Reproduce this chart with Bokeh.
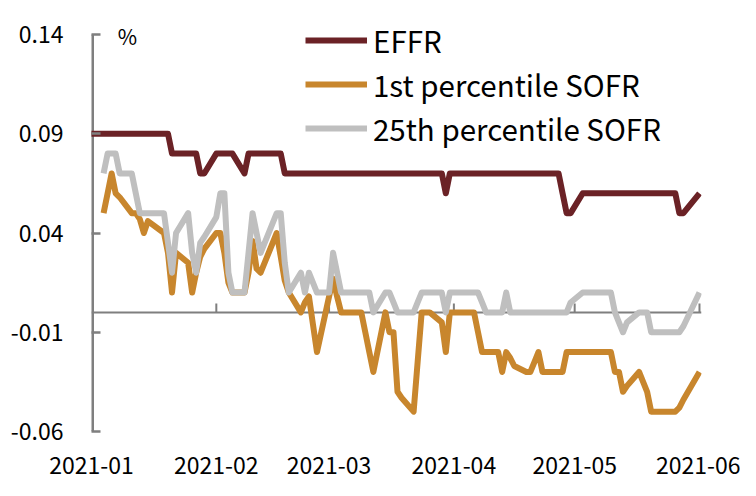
import pandas as pd
from bokeh.plotting import figure
from bokeh.models import (Span, Legend, LegendItem, FixedTicker, DatetimeTickFormatter,
                          PrintfTickFormatter, Label, Range1d, ColumnDataSource)
from bokeh.embed import file_html
from bokeh.resources import INLINE

# ---------------- data ----------------
holidays = ["2021-01-18", "2021-02-15", "2021-05-31"]
dates = [d for d in pd.bdate_range("2021-01-04", "2021-06-01")
         if d.strftime("%Y-%m-%d") not in holidays]
effr_dates = [pd.Timestamp("2020-12-31")] + dates

effr = ([0.09]
        + [0.09] * 12 + [0.08] * 5 + [0.07] * 2                       # Jan
        + [0.08] * 5 + [0.07] + [0.08] * 6 + [0.07] * 7               # Feb
        + [0.07] * 21 + [0.06, 0.07]                                  # Mar
        + [0.07] * 19 + [0.06, 0.05, 0.05]                            # Apr
        + [0.06] * 18 + [0.05, 0.05]                                  # May
        + [0.06])                                                     # Jun

sofr_p1 = ([0.05, 0.06, 0.07, 0.06, 0.058, 0.05, 0.05, 0.047, 0.04, 0.046, 0.04, 0.03,
            0.01, 0.03, 0.025, 0.01, 0.02, 0.028, 0.032]
           + [0.04, 0.04, 0.03, 0.015, 0.01, 0.01, 0.02, 0.036, 0.022, 0.02, 0.04, 0.028,
              0.016, 0.01, 0.0, 0.005, 0.008, -0.006, -0.02]
           + [0.008, 0.017, 0.008, 0.0, 0.0, 0.0, 0.0, -0.01, -0.02, -0.03, 0.0, -0.01,
              -0.01, -0.04, -0.043, -0.05, -0.025, 0.0, 0.0, 0.0, -0.005, -0.02, 0.0]
           + [0.0, 0.0, 0.0, 0.0, -0.01, -0.02, -0.02, -0.02, -0.03, -0.02, -0.023, -0.027,
              -0.03, -0.03, -0.025, -0.02, -0.03, -0.03, -0.03, -0.03, -0.02, -0.02]
           + [-0.02, -0.02, -0.02, -0.02, -0.02, -0.02, -0.03, -0.03, -0.04, -0.037, -0.03,
              -0.035, -0.04, -0.05, -0.05, -0.05, -0.05, -0.05, -0.048, -0.044]
           + [-0.03])

sofr_p25 = ([0.07, 0.08, 0.08, 0.08, 0.07, 0.07, 0.06, 0.05, 0.05, 0.05, 0.05, 0.035,
             0.02, 0.04, 0.05, 0.03, 0.02, 0.035, 0.038]
            + [0.048, 0.06, 0.06, 0.02, 0.01, 0.01, 0.03, 0.05, 0.04, 0.03, 0.05, 0.05,
               0.025, 0.01, 0.02, 0.01, 0.02, 0.015, 0.01]
            + [0.01, 0.03, 0.02, 0.01, 0.01, 0.01, 0.01, 0.01, 0.01, 0.0, 0.01, 0.01,
               0.005, 0.0, 0.0, 0.0, 0.005, 0.01, 0.01, 0.01, 0.01, 0.0, 0.01]
            + [0.01, 0.01, 0.01, 0.01, 0.01, 0.005, 0.0, 0.0, 0.0, 0.01, 0.0, 0.0,
               0.0, 0.0, 0.0, 0.0, 0.0, 0.0, 0.0, 0.0, 0.0, 0.005]
            + [0.01, 0.01, 0.01, 0.01, 0.01, 0.01, 0.0, -0.005, -0.01, -0.005, 0.0, 0.0,
               0.0, -0.01, -0.01, -0.01, -0.01, -0.01, -0.01, -0.007]
            + [0.01])

month_ticks = ["2021-01-01", "2021-02-01", "2021-03-01", "2021-04-01", "2021-05-01", "2021-06-01"]
y_ticks = [-0.06, -0.01, 0.04, 0.09, 0.14]
series_names = ["EFFR", "1st percentile SOFR", "25th percentile SOFR"]

# ---------------- styling ----------------
FONT = "Noto Sans CJK SC"
C_EFFR = "#6B2226"
C_P1 = "#C8862D"
C_P25 = "#BFBFBF"
C_AXIS = "#7F7F7F"

tick_ms = [pd.Timestamp(t).value // 10**6 for t in month_ticks]

# frame: 397 px for the -0.06..0.14 span, plus 34 px headroom above for the legend
FRAME_H = 431
y_top = y_ticks[-1] + (y_ticks[-1] - y_ticks[0]) * 34 / 397

p = figure(width=740, height=480, output_backend="svg", toolbar_location=None,
           x_axis_type="datetime",
           x_range=Range1d(pd.Timestamp("2021-01-01"), pd.Timestamp("2021-06-01 12:00")),
           y_range=Range1d(y_ticks[0], y_top),
           min_border_left=91, min_border_right=39, min_border_top=0, min_border_bottom=480 - FRAME_H)
p.outline_line_color = None
p.grid.visible = False
p.background_fill_color = "white"

# zero line (horizontal axis) with month ticks
p.add_layout(Span(location=0, dimension="width", line_color=C_AXIS, line_width=2, level="underlay"))
p.segment(x0=[pd.Timestamp(t) for t in month_ticks[1:]], x1=[pd.Timestamp(t) for t in month_ticks[1:]],
          y0=0, y1=0.0045, line_color=C_AXIS, line_width=2, level="underlay")

# vertical axis line, only between the lowest and highest tick
p.segment(x0=[pd.Timestamp(month_ticks[0])], x1=[pd.Timestamp(month_ticks[0])],
          y0=[y_ticks[0]], y1=[y_ticks[-1]], line_color=C_AXIS, line_width=5)

src_e = ColumnDataSource(dict(x=effr_dates, y=effr))
src_1 = ColumnDataSource(dict(x=dates, y=sofr_p1))
src_25 = ColumnDataSource(dict(x=dates, y=sofr_p25))

LW = 6
r1 = p.line("x", "y", source=src_e, line_color=C_EFFR, line_width=LW, line_join="round")
r2 = p.line("x", "y", source=src_1, line_color=C_P1, line_width=LW, line_join="round")
r3 = p.line("x", "y", source=src_25, line_color=C_P25, line_width=LW, line_join="round")

# y axis (ticks + labels; line drawn above)
ya = p.yaxis[0]
ya.ticker = FixedTicker(ticks=y_ticks)
ya.formatter = PrintfTickFormatter(format="%.2f")
ya.axis_line_color = None
ya.major_tick_line_color = C_AXIS
ya.major_tick_line_width = 2.5
ya.major_tick_in = 9
ya.major_tick_out = 0
ya.minor_tick_line_color = None
ya.major_label_standoff = 28
ya.major_label_text_font = FONT
ya.major_label_text_font_size = "23px"
ya.major_label_text_color = "#000000"

# x axis (labels only, at the bottom)
xa = p.xaxis[0]
xa.ticker = FixedTicker(ticks=tick_ms)
fmt = "%Y-%m"
xa.formatter = DatetimeTickFormatter(milliseconds=fmt, seconds=fmt, minsec=fmt, minutes=fmt,
                                     hourmin=fmt, hours=fmt, days=fmt, months=fmt, years=fmt)
xa.axis_line_color = None
xa.major_tick_line_color = None
xa.minor_tick_line_color = None
xa.major_label_standoff = 19
xa.major_label_text_font = FONT
xa.major_label_text_font_size = "23px"
xa.major_label_text_color = "#000000"

# unit label
p.add_layout(Label(x=pd.Timestamp("2021-01-07 12:00"), y=0.1392, text="%", text_font=FONT,
                   text_font_size="21px", text_baseline="middle", text_align="left",
                   text_color="#000000"))

legend = Legend(items=[LegendItem(label=series_names[0], renderers=[r1]),
                       LegendItem(label=series_names[1], renderers=[r2]),
                       LegendItem(label=series_names[2], renderers=[r3])],
                location=(214, 282), orientation="vertical",
                label_text_font=FONT, label_text_font_size="29.5px", label_text_color="#000000",
                glyph_width=62, glyph_height=30, label_height=30, spacing=2,
                padding=0, margin=0, label_standoff=6,
                border_line_color=None, background_fill_alpha=0)
p.add_layout(legend)

open("out.html", "w").write(file_html(p, INLINE))
